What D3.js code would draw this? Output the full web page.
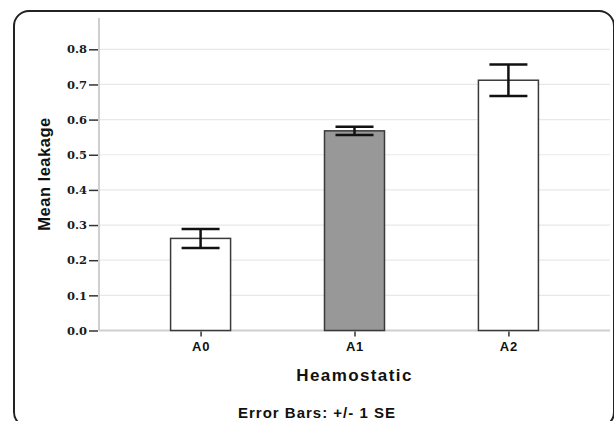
<!DOCTYPE html>
<html>
<head>
<meta charset="utf-8">
<script src="https://cdn.jsdelivr.net/npm/d3@7"></script>
<style>
  body { margin: 0; background: #fff; }
  svg { display: block; }
</style>
</head>
<body>
<div id="chart"></div>
<script>
// chart values
const categories = ['A0', 'A1', 'A2'];
const means = [0.262, 0.568, 0.712];
const stdErr = [0.027, 0.012, 0.045];
const yTicks = [0.0, 0.1, 0.2, 0.3, 0.4, 0.5, 0.6, 0.7, 0.8];

const width = 614, height = 421;
const plot = { left: 99, right: 610, top: 18, bottom: 330.5 };

const svg = d3.select('#chart').append('svg')
    .attr('width', width)
    .attr('height', height);

// rounded outer frame (runs off the bottom/right edge)
svg.append('rect')
    .attr('x', 14).attr('y', 11)
    .attr('width', 600).attr('height', 416)
    .attr('rx', 15)
    .attr('fill', 'none')
    .attr('stroke', '#222')
    .attr('stroke-width', 2);

const x = d3.scalePoint()
    .domain(categories)
    .range([plot.left, plot.right])
    .padding(0.66);

const y = d3.scaleLinear()
    .domain([0, 0.8])
    .range([plot.bottom, 49.3]);

const barFill = d3.scaleOrdinal()
    .domain(categories)
    .range(['#ffffff', '#989898', '#ffffff']);

const barWidth = 60, capWidth = 38;

// gridlines
svg.append('g')
    .selectAll('line')
    .data(yTicks.filter(d => d > 0))
    .enter()
    .append('line')
    .attr('x1', plot.left + 1)
    .attr('x2', plot.right)
    .attr('y1', d => y(d))
    .attr('y2', d => y(d))
    .attr('stroke', '#e8e8e8')
    .attr('stroke-width', 1.2);

// axis lines
svg.append('line')
    .attr('x1', plot.left).attr('x2', plot.left)
    .attr('y1', plot.top).attr('y2', plot.bottom)
    .attr('stroke', '#cfcfcf').attr('stroke-width', 2);
svg.append('line')
    .attr('x1', plot.left).attr('x2', plot.right)
    .attr('y1', plot.bottom).attr('y2', plot.bottom)
    .attr('stroke', '#cfcfcf').attr('stroke-width', 2);

// y axis ticks + labels
const yAxis = svg.append('g')
    .attr('transform', `translate(${plot.left - 1},0)`)
    .call(d3.axisLeft(y).tickValues(yTicks).tickFormat(d3.format('.1f')).tickSize(9).tickPadding(2));
yAxis.select('.domain').remove();
yAxis.selectAll('.tick line').attr('stroke', '#333').attr('stroke-width', 1.5);
yAxis.selectAll('.tick text')
    .attr('fill', '#1a1a1a')
    .style('font-family', '"DejaVu Serif", serif')
    .style('font-weight', 'bold')
    .style('font-size', '11.5px');

// x axis ticks + labels
const xAxis = svg.append('g')
    .attr('transform', `translate(0,${plot.bottom + 1})`)
    .call(d3.axisBottom(x).tickSize(5).tickPadding(5));
xAxis.select('.domain').remove();
xAxis.selectAll('.tick line').attr('stroke', '#333').attr('stroke-width', 1.5);
xAxis.selectAll('.tick text')
    .attr('fill', '#111')
    .style('font-family', '"Liberation Sans", Arial, sans-serif')
    .style('font-weight', 'bold')
    .style('font-size', '13px')
    .style('letter-spacing', '0.8px');

// bars
const rows = categories.map((c, i) => ({ cat: c, mean: means[i], se: stdErr[i] }));

svg.append('g')
    .selectAll('rect')
    .data(rows)
    .enter()
    .append('rect')
    .attr('x', d => x(d.cat) - barWidth / 2)
    .attr('y', d => y(d.mean))
    .attr('width', barWidth)
    .attr('height', d => y(0) - y(d.mean))
    .attr('fill', d => barFill(d.cat))
    .attr('stroke', '#3a3a3a')
    .attr('stroke-width', 1.5);

// error bars
const err = svg.append('g')
    .selectAll('g')
    .data(rows)
    .enter()
    .append('g')
    .attr('stroke', '#111')
    .attr('stroke-width', 2.5);

err.append('line')
    .attr('x1', d => x(d.cat)).attr('x2', d => x(d.cat))
    .attr('y1', d => y(d.mean + d.se)).attr('y2', d => y(d.mean - d.se));
err.append('line')
    .attr('x1', d => x(d.cat) - capWidth / 2).attr('x2', d => x(d.cat) + capWidth / 2)
    .attr('y1', d => y(d.mean + d.se)).attr('y2', d => y(d.mean + d.se));
err.append('line')
    .attr('x1', d => x(d.cat) - capWidth / 2).attr('x2', d => x(d.cat) + capWidth / 2)
    .attr('y1', d => y(d.mean - d.se)).attr('y2', d => y(d.mean - d.se));

// titles
const sans = '"Liberation Sans", Arial, sans-serif';

svg.append('text')
    .attr('transform', 'translate(50,174) rotate(-90)')
    .attr('text-anchor', 'middle')
    .style('font-family', sans)
    .style('font-weight', 'bold')
    .style('font-size', '16.5px')
    .style('letter-spacing', '0.5px')
    .attr('fill', '#111')
    .text('Mean leakage');

svg.append('text')
    .attr('x', 354.5).attr('y', 381)
    .attr('text-anchor', 'middle')
    .style('font-family', sans)
    .style('font-weight', 'bold')
    .style('font-size', '17px')
    .style('letter-spacing', '1.4px')
    .attr('fill', '#111')
    .text('Heamostatic');

svg.append('text')
    .attr('x', 317).attr('y', 418)
    .attr('text-anchor', 'middle')
    .style('font-family', sans)
    .style('font-weight', 'bold')
    .style('font-size', '15px')
    .style('letter-spacing', '1px')
    .attr('fill', '#111')
    .text('Error Bars: +/- 1 SE');
</script>
</body>
</html>
